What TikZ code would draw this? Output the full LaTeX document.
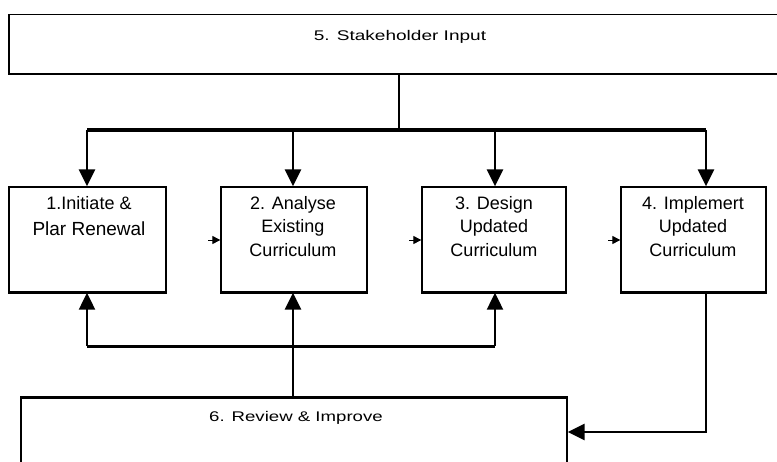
\documentclass[tikz,border=0pt]{standalone}
\usepackage{fontspec}
\usepackage{graphicx}
\setmainfont{Liberation Sans}
\usetikzlibrary{arrows.meta}
\begin{document}
\begin{tikzpicture}[x=1pt,y=-1pt,
  box/.style={draw, line width=1.3pt, fill=white, inner sep=0pt},
  boxtxt/.style={align=center, font=\fontsize{18}{23.5}\selectfont, inner sep=0pt, anchor=north},
  widetxt/.style={font=\fontsize{14}{16}\selectfont, inner sep=0pt},
  arr/.style={-{Triangle[width=16pt,length=17pt]}, line width=2.4pt},
  smallarr/.style={-{Triangle[width=8pt,length=8pt]}, line width=1pt},
  conn/.style={line width=2.2pt},
  busline/.style={line width=3.2pt},
  shadowedge/.style={line width=2.6pt}
]
\clip (0,0) rectangle (777,461);
\fill[white] (0,0) rectangle (777,461);

% boxes
\node[box, minimum width=782pt, minimum height=59pt] (s5) at (400,44.3) {};
\node[box, minimum width=157pt, minimum height=105pt] (b1) at (87.5,239.5) {};
\node[box, minimum width=146pt, minimum height=105pt] (b2) at (294,239.5) {};
\node[box, minimum width=144pt, minimum height=105pt] (b3) at (494,239.5) {};
\node[box, minimum width=145pt, minimum height=105pt] (b4) at (693.5,239.5) {};
\node[box, minimum width=546pt, minimum height=80pt] (b6) at (294,438) {};

\draw[line width=2pt] (s5.south west) -- (s5.south east);
\foreach \n in {b1,b2,b3,b4} \draw[shadowedge] (\n.south west) -- (\n.south east);
\draw[line width=2pt] (b6.north west) -- (b6.north east);

% labels
\node[widetxt] (l5) at (400,37) {\scalebox{1.36}[1]{5. Stakeholder Input}};
\node[widetxt] (l6) at (296,418) {\scalebox{1.33}[1]{6. Review \& Improve}};
\node[boxtxt] (l1) at (89,196) {1.Initiate \&\\[3pt]{\fontsize{19}{23.5}\selectfont Plar Renewal}};
\node[boxtxt] (l2) at (293,196) {2. Analyse\\Existing\\Curriculum};
\node[boxtxt] (l3) at (494,196) {3. Design\\Updated\\Curriculum};
\node[boxtxt] (l4) at (693,196) {4. Implemert\\Updated\\Curriculum};

% top distribution
\coordinate (hub) at (399,130);
\coordinate (t1) at (87,130);
\coordinate (t2) at (293,130);
\coordinate (t3) at (495,130);
\coordinate (t4) at (706,130);
\draw[conn] (s5.south -| hub) -- (hub);
\draw[busline] (t1) -- (t4);
\draw[arr] (t1) -- (b1.north -| t1);
\draw[arr] (t2) -- (b2.north -| t2);
\draw[arr] (t3) -- (b3.north -| t3);
\draw[arr] (t4) -- (b4.north -| t4);

% small sequence arrows
\coordinate (a2) at (208,240);
\coordinate (a3) at (409,240);
\coordinate (a4) at (608,240);
\draw[smallarr] (a2) -- (b2.west |- a2);
\draw[smallarr] (a3) -- (b3.west |- a3);
\draw[smallarr] (a4) -- (b4.west |- a4);

% bottom feedback
\coordinate (u1) at (87,346);
\coordinate (u2) at (293,346);
\coordinate (u3) at (495,346);
\draw[busline, line width=3pt] (u1) -- (u3);
\draw[arr, line width=2pt] (u1) -- (b1.south -| u1);
\draw[arr, line width=2pt] (u3) -- (b3.south -| u3);
\draw[arr, line width=2.6pt] (b6.north -| u2) -- (b2.south -| u2);

% implement to review
\coordinate (r1) at (706,432);
\draw[arr] (b4.south -| r1) -- (r1) -- (r1 -| b6.east);
\end{tikzpicture}
\end{document}
